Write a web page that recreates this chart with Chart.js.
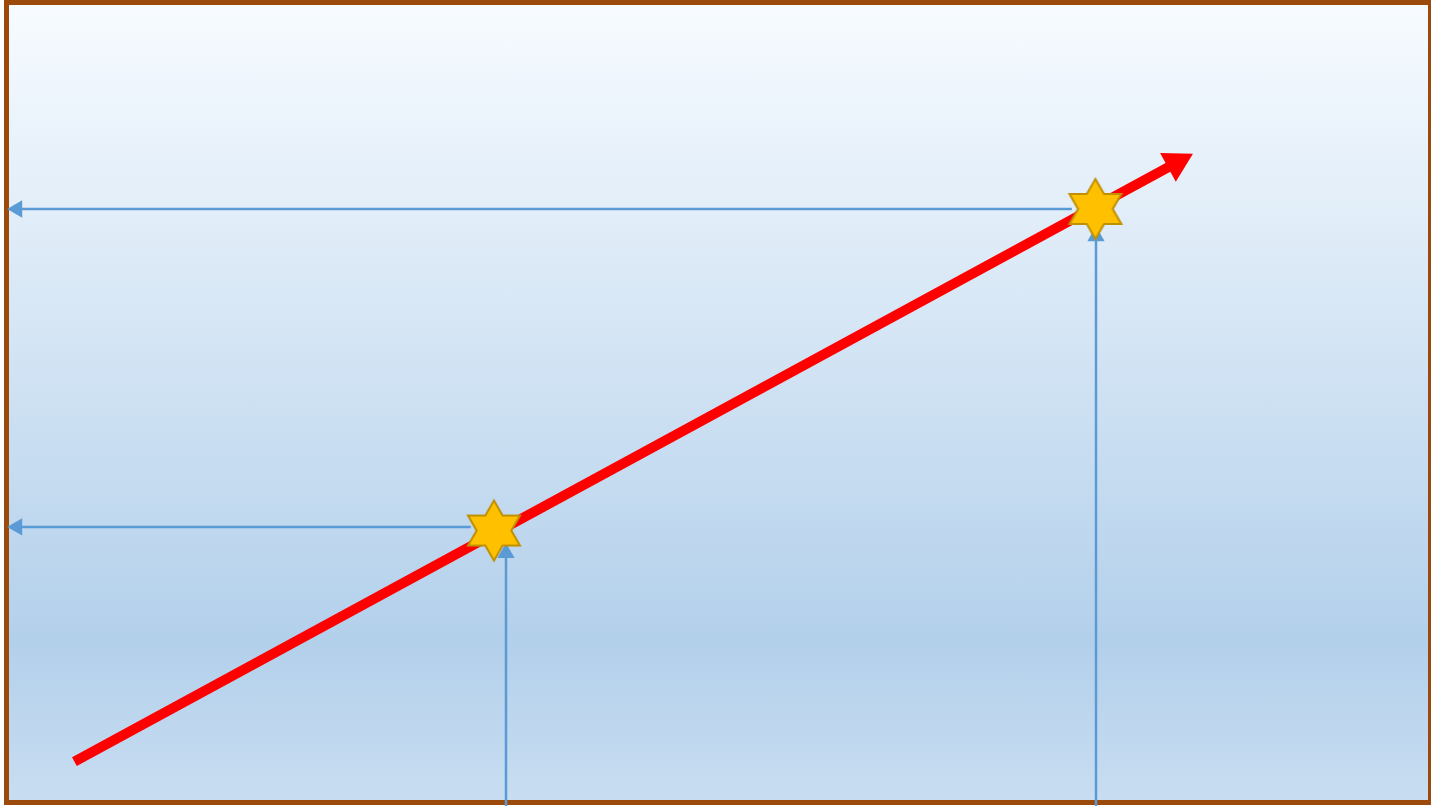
<!DOCTYPE html>
<html>
<head>
<meta charset="utf-8">
<title>Arrow chart</title>
<script src="https://cdn.jsdelivr.net/npm/chart.js@4.4.1/dist/chart.umd.min.js"></script>
<style>
  html, body { margin: 0; padding: 0; overflow: hidden; background: #ffffff; }
  #frame {
    position: absolute; left: 4px; top: 0px;
    width: 1419px; height: 795px;
    border: 5px solid #9b4a0b;
    background: linear-gradient(to bottom, #f7fbff 0%, #d6e6f5 40%, #b3d0eb 80%, #c8ddf1 100%);
  }
  #chart { position: absolute; left: 0; top: 0; }
</style>
</head>
<body>
<div id="frame"></div>
<canvas id="chart" width="1431" height="806"></canvas>
<script>
// values in a 0..100 space on both axes
const trendX = [5.2, 82.2];
const trendY = [5.5, 79.8];

const starX = [34.52, 76.55];
const starY = [34.18, 74.07];

// horizontal guides: from the star out to the y axis
const hGuideY = [34.62, 74.07];
const hGuideFromX = [32.9, 74.9];
const hGuideToX = 1.2;

// vertical guides: from the x axis up to the star
const vGuideX = [35.36, 76.59];
const vGuideToY = [31.4, 70.7];

const blue = '#5b9bd5';

function makeStar(size) {
    const c = document.createElement('canvas');
    c.width = size;
    c.height = size;
    const g = c.getContext('2d');
    const cx = size / 2, cy = size / 2;
    const R = size / 2 - 3;
    const r = R / Math.sqrt(3);
    g.beginPath();
    for (let i = 0; i < 12; i++) {
        const rad = i % 2 === 0 ? R : r;
        const a = (-90 + i * 30) * Math.PI / 180;
        const px = cx + rad * Math.cos(a);
        const py = cy + rad * Math.sin(a);
        if (i === 0) g.moveTo(px, py); else g.lineTo(px, py);
    }
    g.closePath();
    g.fillStyle = '#ffc000';
    g.fill();
    g.lineWidth = 2;
    g.strokeStyle = '#bf9000';
    g.lineJoin = 'miter';
    g.stroke();
    return c;
}

const datasets = [];

// lower "order" is drawn on top
for (let i = 0; i < hGuideY.length; i++) {
    datasets.push({
        type: 'line',
        order: 3,
        data: [{ x: hGuideFromX[i], y: hGuideY[i] }, { x: hGuideToX, y: hGuideY[i] }],
        borderColor: blue,
        borderWidth: 2.5,
        pointRadius: [0, 10],
        pointStyle: 'triangle',
        pointRotation: 270,
        pointBackgroundColor: blue,
        pointBorderColor: blue,
        pointBorderWidth: 0,
        tension: 0
    });
    datasets.push({
        type: 'line',
        order: 3,
        data: [{ x: vGuideX[i], y: 0 }, { x: vGuideX[i], y: vGuideToY[i] }],
        borderColor: blue,
        borderWidth: 2.5,
        pointRadius: [0, 10],
        pointStyle: 'triangle',
        pointRotation: 0,
        pointBackgroundColor: blue,
        pointBorderColor: blue,
        pointBorderWidth: 0,
        tension: 0
    });
}

datasets.push({
    type: 'line',
    order: 2,
    data: trendX.map((x, i) => ({ x: x, y: trendY[i] })),
    borderColor: '#ff0000',
    borderWidth: 10,
    borderCapStyle: 'butt',
    pointRadius: [0, 19],
    pointStyle: 'triangle',
    pointRotation: 61.5,
    pointBackgroundColor: '#ff0000',
    pointBorderColor: '#ff0000',
    pointBorderWidth: 0,
    tension: 0
});

datasets.push({
    type: 'scatter',
    order: 1,
    data: starX.map((x, i) => ({ x: x, y: starY[i] })),
    pointStyle: makeStar(66),
    pointRadius: 30
});

new Chart(document.getElementById('chart'), {
    type: 'scatter',
    data: { datasets: datasets },
    options: {
        responsive: false,
        animation: false,
        events: [],
        layout: { padding: 0, autoPadding: false },
        plugins: { legend: { display: false }, tooltip: { enabled: false } },
        scales: {
            x: { type: 'linear', min: 0, max: 100, display: false },
            y: { type: 'linear', min: 0, max: 100, display: false }
        }
    }
});
</script>
</body>
</html>
